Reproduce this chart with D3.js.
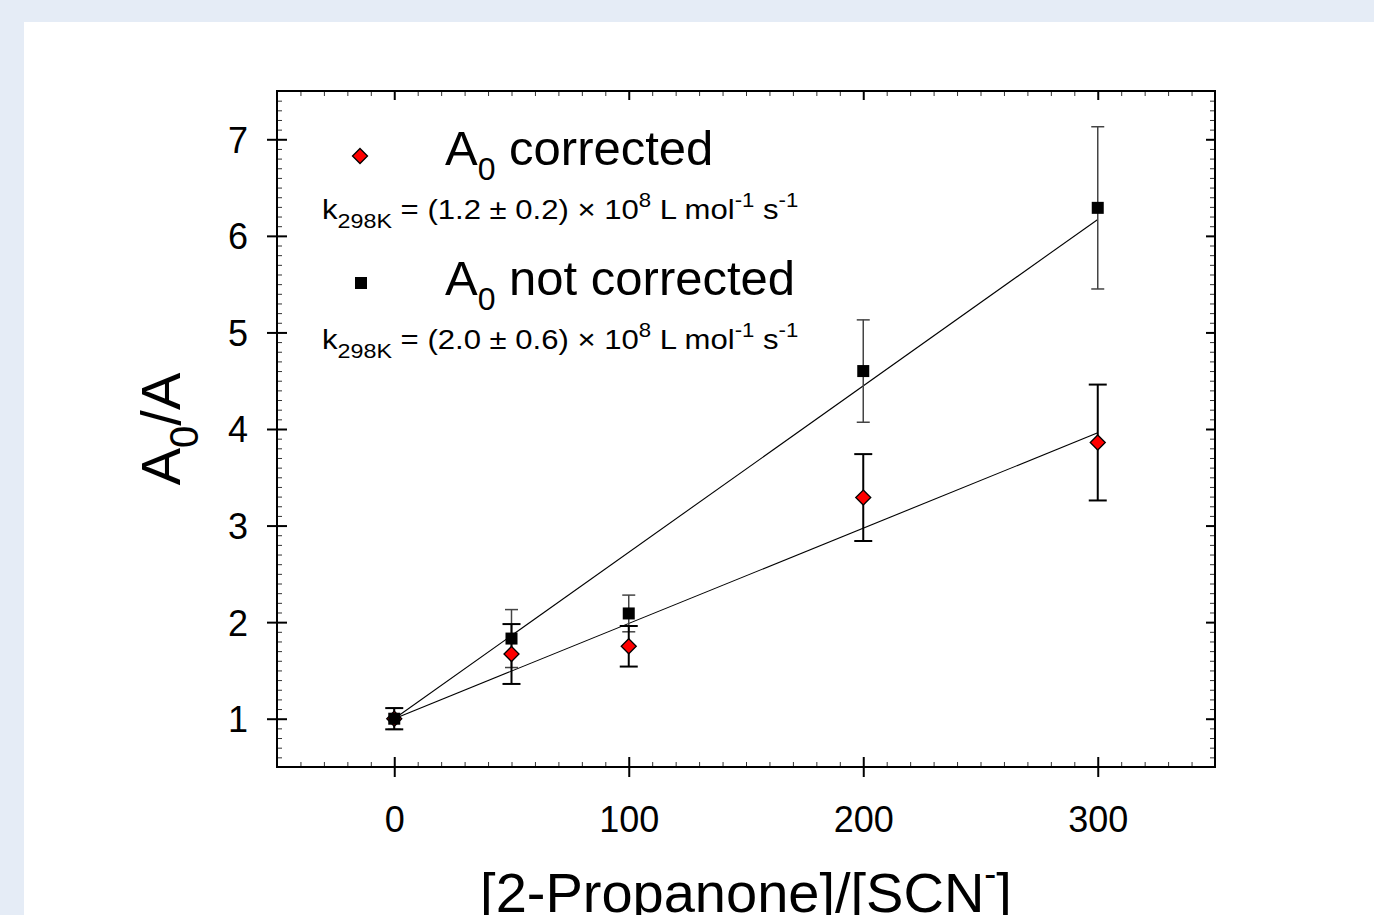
<!DOCTYPE html>
<html>
<head>
<meta charset="utf-8">
<script src="https://cdn.jsdelivr.net/npm/d3@7"></script>
<style>
  html, body { margin: 0; padding: 0; background: #e5ecf6; }
  svg { display: block; }
  text { font-family: "Liberation Sans", Arial, sans-serif; fill: #000; }
</style>
</head>
<body>
<svg id="chart" width="1374" height="915"></svg>
<script>
// ---- data ----
const xValues = [0, 50, 100, 200, 300];
const correctedValues = [1.00, 1.67, 1.75, 3.29, 3.86];
const correctedErrors = [0.11, 0.31, 0.21, 0.45, 0.60];
const notCorrectedValues = [1.00, 1.83, 2.09, 4.60, 6.29];
const notCorrectedErrors = [0.11, 0.30, 0.19, 0.53, 0.84];
const fitX = [0, 300];
const fitCorrected = [1.00, 3.96];
const fitNotCorrected = [1.00, 6.17];
const xTickValues = [0, 100, 200, 300];
const yTickValues = [1, 2, 3, 4, 5, 6, 7];
const xDomain = [-50, 350];
const yDomain = [0.5, 7.5];

// ---- layout ----
const svg = d3.select("#chart");
svg.append("rect").attr("x", 24).attr("y", 22).attr("width", 1374 - 24).attr("height", 915 - 22).attr("fill", "#fff");

const L = 277, R = 1215, T = 91, B = 767;
const x = d3.scaleLinear().domain(xDomain).range([L, R]);
const y = d3.scaleLinear().domain(yDomain).range([B, T]);

const xMinor = d3.range(-50, 351, 10).filter(v => !xTickValues.includes(v));
const yMinor = d3.range(5, 76, 1).map(v => +(v / 10).toFixed(1)).filter(v => !yTickValues.includes(v));

function styleMinor(g) {
  g.select(".domain").remove();
  g.selectAll(".tick line").attr("stroke", "#333").attr("stroke-width", 1);
  g.selectAll(".tick text").remove();
}
function styleMajor(g) {
  g.select(".domain").remove();
  g.selectAll(".tick line").attr("stroke", "#000").attr("stroke-width", 2);
}

// bottom
svg.append("g").attr("transform", `translate(0,${B})`)
  .call(d3.axisBottom(x).tickValues(xMinor).tickSize(-5)).call(styleMinor);
const gb = svg.append("g").attr("transform", `translate(0,${B})`)
  .call(d3.axisBottom(x).tickValues(xTickValues).tickSize(10).tickFormat(d3.format("d"))).call(styleMajor);
gb.selectAll(".tick line").attr("y1", -10);
gb.selectAll(".tick text").attr("y", 65).attr("dy", 0)
  .attr("font-size", 36).attr("font-family", "Liberation Sans, Arial, sans-serif").attr("fill", "#000");

// top
svg.append("g").attr("transform", `translate(0,${T})`)
  .call(d3.axisTop(x).tickValues(xMinor).tickSize(-5)).call(styleMinor);
svg.append("g").attr("transform", `translate(0,${T})`)
  .call(d3.axisTop(x).tickValues(xTickValues).tickSize(-9).tickFormat("")).call(styleMajor);

// left
svg.append("g").attr("transform", `translate(${L},0)`)
  .call(d3.axisLeft(y).tickValues(yMinor).tickSize(-5)).call(styleMinor);
const gl = svg.append("g").attr("transform", `translate(${L},0)`)
  .call(d3.axisLeft(y).tickValues(yTickValues).tickSize(10).tickFormat(d3.format("d"))).call(styleMajor);
gl.selectAll(".tick line").attr("x1", 10);
gl.selectAll(".tick text").attr("x", -29).attr("dy", "0.36em")
  .attr("font-size", 36).attr("font-family", "Liberation Sans, Arial, sans-serif").attr("fill", "#000");

// right
svg.append("g").attr("transform", `translate(${R},0)`)
  .call(d3.axisRight(y).tickValues(yMinor).tickSize(-5)).call(styleMinor);
svg.append("g").attr("transform", `translate(${R},0)`)
  .call(d3.axisRight(y).tickValues(yTickValues).tickSize(-9).tickFormat("")).call(styleMajor);

// frame
svg.append("rect").attr("x", L).attr("y", T).attr("width", R - L).attr("height", B - T)
  .attr("fill", "none").attr("stroke", "#000").attr("stroke-width", 2);

// fit lines
const line = d3.line().x(d => x(d[0])).y(d => y(d[1]));
svg.append("path").datum(fitX.map((v, i) => [v, fitNotCorrected[i]]))
  .attr("d", line).attr("fill", "none").attr("stroke", "#000").attr("stroke-width", 1.1);
svg.append("path").datum(fitX.map((v, i) => [v, fitCorrected[i]]))
  .attr("d", line).attr("fill", "none").attr("stroke", "#000").attr("stroke-width", 1.1);

// error bars
function errorBars(vals, errs, color, width, capW) {
  const g = svg.append("g").attr("stroke", color).attr("stroke-width", width);
  xValues.forEach((xv, i) => {
    const cx = x(xv), y1 = y(vals[i] + errs[i]), y2 = y(vals[i] - errs[i]);
    g.append("line").attr("x1", cx).attr("x2", cx).attr("y1", y1).attr("y2", y2);
    g.append("line").attr("x1", cx - capW / 2).attr("x2", cx + capW / 2).attr("y1", y1).attr("y2", y1);
    g.append("line").attr("x1", cx - capW / 2).attr("x2", cx + capW / 2).attr("y1", y2).attr("y2", y2);
  });
}
errorBars(notCorrectedValues, notCorrectedErrors, "#444", 1.5, 13);
errorBars(correctedValues, correctedErrors, "#000", 2, 18);

// markers
const diamond = (cx, cy, r) => `M${cx},${cy - r}L${cx + r},${cy}L${cx},${cy + r}L${cx - r},${cy}Z`;
svg.append("g").selectAll("path").data(xValues).join("path")
  .attr("d", (d, i) => diamond(x(d), y(correctedValues[i]), 7.5))
  .attr("fill", "#ff0000").attr("stroke", "#000").attr("stroke-width", 1.3);
svg.append("g").selectAll("rect").data(xValues).join("rect")
  .attr("x", d => x(d) - 6).attr("y", (d, i) => y(notCorrectedValues[i]) - 6)
  .attr("width", 12).attr("height", 12).attr("fill", "#000");

// legend
svg.append("path").attr("d", diamond(360, 156, 7.5)).attr("fill", "#ff0000").attr("stroke", "#000").attr("stroke-width", 1.3);
svg.append("rect").attr("x", 355).attr("y", 277).attr("width", 12).attr("height", 12).attr("fill", "#000");

function legendTitle(yb, label) {
  const t = svg.append("text").attr("x", 445).attr("y", yb).attr("font-size", 49);
  t.append("tspan").text("A");
  t.append("tspan").attr("font-size", 32).attr("dy", 15).text("0");
  t.append("tspan").attr("dy", -15).text(" " + label);
}
legendTitle(165, "corrected");
legendTitle(295, "not corrected");

function rateText(yb, body) {
  const t = svg.append("text").attr("transform", `translate(322,${yb}) scale(1.11,1)`).attr("font-size", 28);
  t.append("tspan").text("k");
  t.append("tspan").attr("font-size", 21).attr("dy", 9).text("298K");
  t.append("tspan").attr("dy", -9).text(" = " + body + " \u00d7 10");
  t.append("tspan").attr("font-size", 20).attr("dy", -12).text("8");
  t.append("tspan").attr("dy", 12).text(" L mol");
  t.append("tspan").attr("font-size", 20).attr("dy", -12).text("-1");
  t.append("tspan").attr("dy", 12).text(" s");
  t.append("tspan").attr("font-size", 20).attr("dy", -12).text("-1");
}
rateText(219, "(1.2 \u00b1 0.2)");
rateText(349, "(2.0 \u00b1 0.6)");

// axis titles
const xt = svg.append("text").attr("x", (L + R) / 2).attr("y", 912).attr("text-anchor", "middle").attr("font-size", 56);
xt.append("tspan").text("[2-Propanone]/[SCN");
xt.append("tspan").attr("font-size", 36).attr("dy", -26).text("-");
xt.append("tspan").attr("dy", 26).text("]");

const yt = svg.append("text").attr("transform", `translate(180,${(T + B) / 2}) rotate(-90)`)
  .attr("text-anchor", "middle").attr("font-size", 56);
yt.append("tspan").text("A");
yt.append("tspan").attr("font-size", 40).attr("dy", 18).text("0");
yt.append("tspan").attr("dy", -18).text("/A");
</script>
</body>
</html>
